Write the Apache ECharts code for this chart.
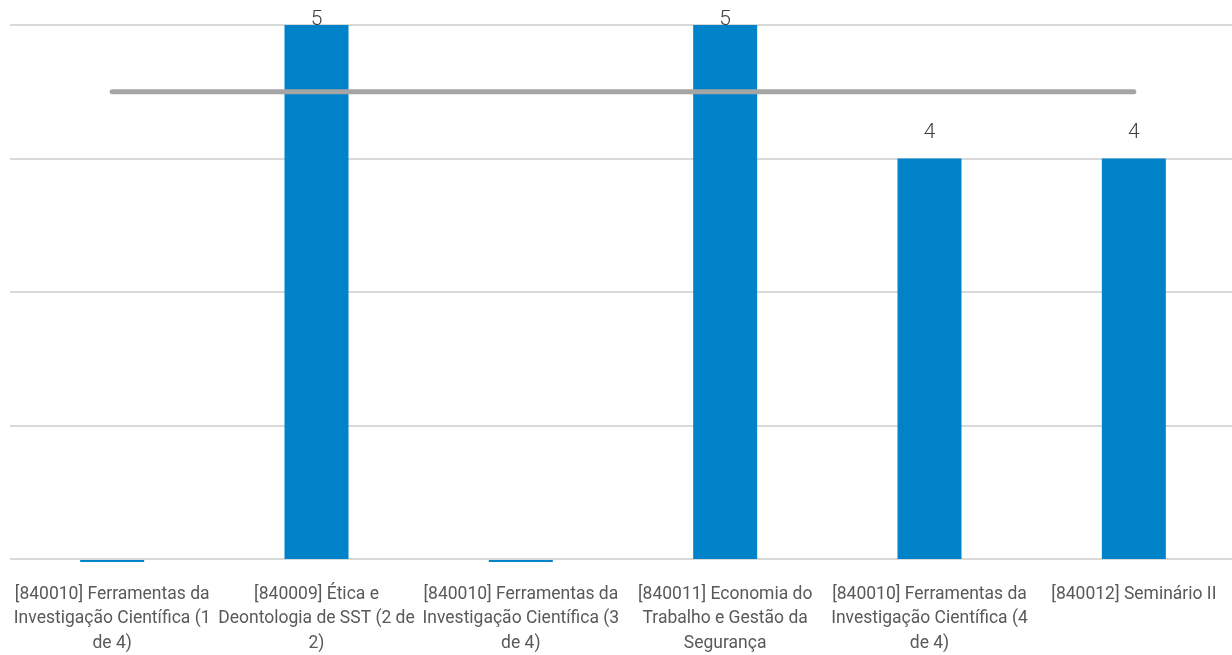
<!DOCTYPE html>
<html><head><meta charset="utf-8">
<script src="https://cdn.jsdelivr.net/npm/echarts@6/dist/echarts.min.js"></script>
<style>html,body{margin:0;padding:0;background:#fff}#c{width:1232px;height:655px}</style>
</head><body><div id="c"></div>
<script>
const categories = [
  "[840010] Ferramentas da\nInvestigação Científica (1\nde 4)",
  "[840009] Ética e\nDeontologia de SST (2 de\n2)",
  "[840010] Ferramentas da\nInvestigação Científica (3\nde 4)",
  "[840011] Economia do\nTrabalho e Gestão da\nSegurança",
  "[840010] Ferramentas da\nInvestigação Científica (4\nde 4)",
  "[840012] Seminário II"
];
const values = [0, 5, 0, 5, 4, 4];
const reference = [4.5, 4.5, 4.5, 4.5, 4.5, 4.5];
const yTicks = [1, 2, 3, 4, 5];

const FONT = "'Roboto', sans-serif";
const BLUE = '#0083c9';
const chart = echarts.init(document.getElementById('c'));
chart.setOption({
  animation: false,
  grid: {left: 10, width: 1226, top: 25, bottom: 96, containLabel: false, outerBoundsMode: 'none'},
  xAxis: {
    type: 'category', data: categories,
    axisLine: {show: false}, axisTick: {show: false},
    axisLabel: {interval: 0, color: '#595959', fontFamily: FONT, fontSize: 17.5, lineHeight: 24.5, margin: 23}
  },
  yAxis: {
    type: 'value', min: yTicks[0], max: yTicks[yTicks.length-1], interval: 1,
    axisLabel: {show: false}, axisLine: {show: false}, axisTick: {show: false},
    splitLine: {lineStyle: {color: '#d9d9d9', width: 2}}
  },
  series: [
    {
      type: 'bar', barWidth: 64, z: 2,
      data: values.map(v => ({
        value: v,
        label: {show: v >= yTicks[0], position: 'top', distance: v >= yTicks[yTicks.length-1] ? -5 : 15}
      })),
      itemStyle: {color: BLUE},
      label: {color: '#404040', fontFamily: FONT, fontSize: 21, fontWeight: 300}
    },
    {
      type: 'custom', z: 3,
      data: values.map((v, i) => [i, v]),
      clip: false,
      renderItem: function (params, api) {
        const v = api.value(1);
        if (v >= yTicks[0]) return null;
        const p = api.coord([api.value(0), yTicks[0]]);
        return {type: 'rect', shape: {x: p[0] - 32, y: p[1] + 1, width: 64, height: 2}, style: {fill: BLUE}};
      }
    },
    {
      type: 'line', data: reference, symbol: 'none', z: 4,
      lineStyle: {color: '#a5a5a5', width: 5, cap: 'round'}
    }
  ]
});
</script></body></html>
